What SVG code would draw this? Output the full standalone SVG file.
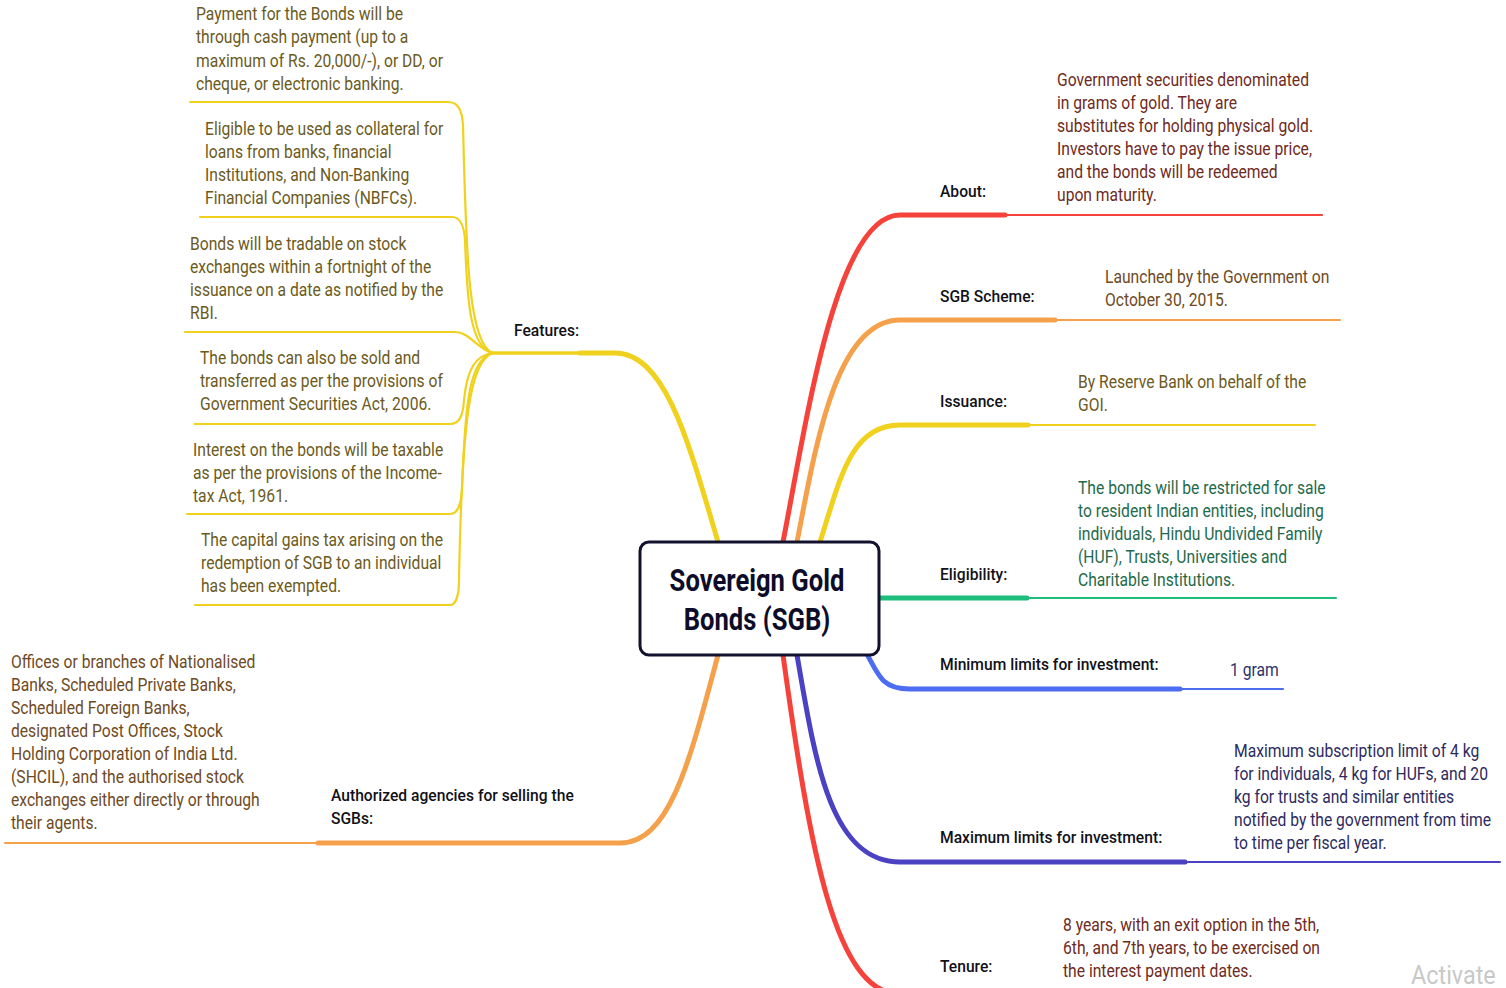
<svg xmlns="http://www.w3.org/2000/svg" width="1506" height="988" viewBox="0 0 1506 988">
<style>
text{font-family:Roboto,"Liberation Sans",sans-serif;}
.lbl{font-size:17px;font-weight:500;fill:#111118;}
.body{font-size:18px;font-weight:400;}
.c-red{fill:#6e2a22;}
.c-or{fill:#6e4a24;}
.c-ye{fill:#6b5a1c;}
.c-gr{fill:#1f6a4c;}
.c-bl{fill:#2a3470;}
.c-in{fill:#2e2a5e;}
.br{fill:none;stroke-linecap:round;}
.thick{stroke-width:5;}
.mid{stroke-width:3.5;}
.thin{stroke-width:2.2;}
.red{stroke:#f5433b;}
.orange{stroke:#f5a14c;}
.yellow{stroke:#f0d21e;}
.green{stroke:#1ebd7c;}
.blue{stroke:#4c6cf2;}
.indigo{stroke:#4a42c2;}
</style>
<rect width="1506" height="988" fill="#ffffff"/>
<g id="connectors">
  <path class="br thick red" d="M 783 542 C 805 430, 835 215, 900 215 L 1005 215"/>
  <path class="br thin red" d="M 1005 215 L 1322 215"/>
  <path class="br thick orange" d="M 797 542 C 815 450, 835 320, 900 320 L 1055 320"/>
  <path class="br thin orange" d="M 1055 320 L 1340 320"/>
  <path class="br thick yellow" d="M 820 542 C 840 480, 850 425, 900 425 L 1028 425"/>
  <path class="br thin yellow" d="M 1028 425 L 1315 425"/>
  <path class="br thick green" d="M 879 598 L 1027 598"/>
  <path class="br thin green" d="M 1027 598 L 1336 598"/>
  <path class="br thick blue" d="M 866 652 C 880 680, 885 689, 910 689 L 1180 689"/>
  <path class="br thin blue" d="M 1180 689 L 1283 689"/>
  <path class="br thick indigo" d="M 797 655 C 815 760, 830 862, 900 862 L 1185 862"/>
  <path class="br thin indigo" d="M 1185 862 L 1500 862"/>
  <path class="br thick red" d="M 783 655 C 810 850, 835 994, 900 994 L 1000 994"/>
  <path class="br thick yellow" d="M 718 542 C 688 440, 665 353, 615 353 L 580 353"/>
  <path class="br mid yellow" d="M 580 353 L 493 353"/>
  <path class="br thin yellow" d="M 190 102 L 448 102 C 458 102, 462 110, 463 125 C 466 250, 468 345, 493 353"/>
  <path class="br thin yellow" d="M 200 217 L 452 217 C 460 217, 464 225, 465 240 C 467 300, 470 348, 493 353"/>
  <path class="br thin yellow" d="M 185 332 L 455 332 C 470 332, 478 350, 493 353"/>
  <path class="br thin yellow" d="M 195 424 L 450 424 C 460 424, 463 415, 464 400 C 467 370, 475 355, 493 353"/>
  <path class="br thin yellow" d="M 187 514 L 450 514 C 458 514, 461 505, 462 490 C 465 400, 470 358, 493 353"/>
  <path class="br thin yellow" d="M 195 605 L 450 605 C 456 605, 459 595, 459 580 C 462 420, 470 360, 493 353"/>
  <path class="br thick orange" d="M 718 655 C 690 760, 670 843, 620 843 L 318 843"/>
  <path class="br thin orange" d="M 318 843 L 5 843"/>
</g>
<g id="center">
  <rect x="640" y="542" width="239" height="113" rx="9" fill="#ffffff" stroke="#12122e" stroke-width="3"/>
  <g transform="translate(757 0) scale(0.8 1)">
    <text x="0" y="591" text-anchor="middle" font-size="32" font-weight="700" fill="#0d0d2a">Sovereign Gold</text>
    <text x="0" y="630" text-anchor="middle" font-size="32" font-weight="700" fill="#0d0d2a">Bonds (SGB)</text>
  </g>
</g>
<g id="about">
  <g transform="translate(940 0) scale(0.92 1)"><text class="lbl" x="0" y="197">About:</text></g>
  <g transform="translate(1057 0) scale(0.87 1)"><text class="body c-red">
    <tspan x="0" y="86">Government securities denominated</tspan>
    <tspan x="0" y="109">in grams of gold. They are</tspan>
    <tspan x="0" y="132">substitutes for holding physical gold.</tspan>
    <tspan x="0" y="155">Investors have to pay the issue price,</tspan>
    <tspan x="0" y="178">and the bonds will be redeemed</tspan>
    <tspan x="0" y="201">upon maturity.</tspan>
  </text></g>
</g>
<g id="sgb-scheme">
  <g transform="translate(940 0) scale(0.92 1)"><text class="lbl" x="0" y="302">SGB Scheme:</text></g>
  <g transform="translate(1105 0) scale(0.87 1)"><text class="body c-or">
    <tspan x="0" y="283">Launched by the Government on</tspan>
    <tspan x="0" y="306">October 30, 2015.</tspan>
  </text></g>
</g>
<g id="issuance">
  <g transform="translate(940 0) scale(0.92 1)"><text class="lbl" x="0" y="407">Issuance:</text></g>
  <g transform="translate(1078 0) scale(0.87 1)"><text class="body c-ye">
    <tspan x="0" y="388">By Reserve Bank on behalf of the</tspan>
    <tspan x="0" y="411">GOI.</tspan>
  </text></g>
</g>
<g id="eligibility">
  <g transform="translate(940 0) scale(0.92 1)"><text class="lbl" x="0" y="580">Eligibility:</text></g>
  <g transform="translate(1078 0) scale(0.87 1)"><text class="body c-gr">
    <tspan x="0" y="494">The bonds will be restricted for sale</tspan>
    <tspan x="0" y="517">to resident Indian entities, including</tspan>
    <tspan x="0" y="540">individuals, Hindu Undivided Family</tspan>
    <tspan x="0" y="563">(HUF), Trusts, Universities and</tspan>
    <tspan x="0" y="586">Charitable Institutions.</tspan>
  </text></g>
</g>
<g id="minimum">
  <g transform="translate(940 0) scale(0.92 1)"><text class="lbl" x="0" y="670">Minimum limits for investment:</text></g>
  <g transform="translate(1230 0) scale(0.87 1)"><text class="body c-bl" x="0" y="676">1 gram</text></g>
</g>
<g id="maximum">
  <g transform="translate(940 0) scale(0.92 1)"><text class="lbl" x="0" y="843">Maximum limits for investment:</text></g>
  <g transform="translate(1234 0) scale(0.87 1)"><text class="body c-in">
    <tspan x="0" y="757">Maximum subscription limit of 4 kg</tspan>
    <tspan x="0" y="780">for individuals, 4 kg for HUFs, and 20</tspan>
    <tspan x="0" y="803">kg for trusts and similar entities</tspan>
    <tspan x="0" y="826">notified by the government from time</tspan>
    <tspan x="0" y="849">to time per fiscal year.</tspan>
  </text></g>
</g>
<g id="tenure">
  <g transform="translate(940 0) scale(0.92 1)"><text class="lbl" x="0" y="972">Tenure:</text></g>
  <g transform="translate(1063 0) scale(0.87 1)"><text class="body c-red">
    <tspan x="0" y="931">8 years, with an exit option in the 5th,</tspan>
    <tspan x="0" y="954">6th, and 7th years, to be exercised on</tspan>
    <tspan x="0" y="977">the interest payment dates.</tspan>
  </text></g>
</g>
<g id="features">
  <g transform="translate(514 0) scale(0.92 1)"><text class="lbl" x="0" y="336">Features:</text></g>
  <g transform="translate(196 0) scale(0.87 1)"><text class="body c-ye">
    <tspan x="0" y="20">Payment for the Bonds will be</tspan>
    <tspan x="0" y="43">through cash payment (up to a</tspan>
    <tspan x="0" y="67">maximum of Rs. 20,000/-), or DD, or</tspan>
    <tspan x="0" y="90">cheque, or electronic banking.</tspan>
  </text></g>
  <g transform="translate(205 0) scale(0.87 1)"><text class="body c-ye">
    <tspan x="0" y="135">Eligible to be used as collateral for</tspan>
    <tspan x="0" y="158">loans from banks, financial</tspan>
    <tspan x="0" y="181">Institutions, and Non-Banking</tspan>
    <tspan x="0" y="204">Financial Companies (NBFCs).</tspan>
  </text></g>
  <g transform="translate(190 0) scale(0.87 1)"><text class="body c-ye">
    <tspan x="0" y="250">Bonds will be tradable on stock</tspan>
    <tspan x="0" y="273">exchanges within a fortnight of the</tspan>
    <tspan x="0" y="296">issuance on a date as notified by the</tspan>
    <tspan x="0" y="319">RBI.</tspan>
  </text></g>
  <g transform="translate(200 0) scale(0.87 1)"><text class="body c-ye">
    <tspan x="0" y="364">The bonds can also be sold and</tspan>
    <tspan x="0" y="387">transferred as per the provisions of</tspan>
    <tspan x="0" y="410">Government Securities Act, 2006.</tspan>
  </text></g>
  <g transform="translate(193 0) scale(0.87 1)"><text class="body c-ye">
    <tspan x="0" y="456">Interest on the bonds will be taxable</tspan>
    <tspan x="0" y="479">as per the provisions of the Income-</tspan>
    <tspan x="0" y="502">tax Act, 1961.</tspan>
  </text></g>
  <g transform="translate(201 0) scale(0.87 1)"><text class="body c-ye">
    <tspan x="0" y="546">The capital gains tax arising on the</tspan>
    <tspan x="0" y="569">redemption of SGB to an individual</tspan>
    <tspan x="0" y="592">has been exempted.</tspan>
  </text></g>
</g>
<g id="authorized">
  <g transform="translate(331 0) scale(0.92 1)"><text class="lbl">
    <tspan x="0" y="801">Authorized agencies for selling the</tspan>
    <tspan x="0" y="824">SGBs:</tspan>
  </text></g>
  <g transform="translate(11 0) scale(0.87 1)"><text class="body c-or">
    <tspan x="0" y="668">Offices or branches of Nationalised</tspan>
    <tspan x="0" y="691">Banks, Scheduled Private Banks,</tspan>
    <tspan x="0" y="714">Scheduled Foreign Banks,</tspan>
    <tspan x="0" y="737">designated Post Offices, Stock</tspan>
    <tspan x="0" y="760">Holding Corporation of India Ltd.</tspan>
    <tspan x="0" y="783">(SHCIL), and the authorised stock</tspan>
    <tspan x="0" y="806">exchanges either directly or through</tspan>
    <tspan x="0" y="829">their agents.</tspan>
  </text></g>
</g>
<g id="watermark">
  <g transform="translate(1411 0) scale(0.9 1)"><text x="0" y="984" font-size="26" fill="#c8c8c8">Activate</text></g>
</g>
</svg>
